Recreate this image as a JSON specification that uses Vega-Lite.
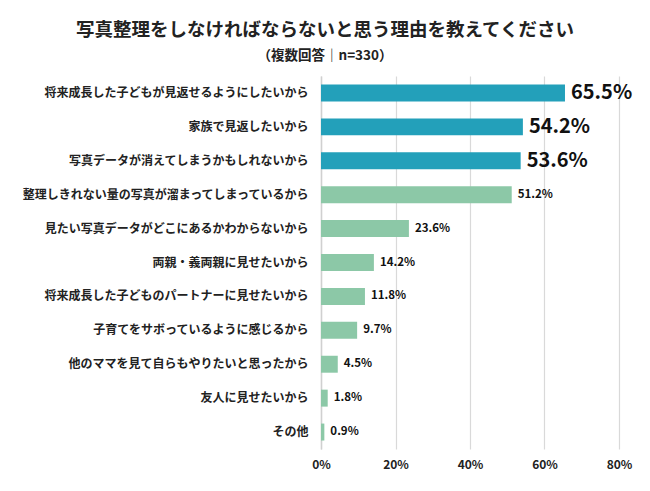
{
  "$schema": "https://vega.github.io/schema/vega-lite/v6.json",
  "width": 298,
  "height": 373,
  "autosize": {"type": "none"},
  "padding": {"left": 321, "top": 76, "right": 31, "bottom": 42},
  "background": "white",
  "config": {
    "font": "Noto Sans CJK JP",
    "view": {"stroke": null}
  },
  "title": {
    "text": "写真整理をしなければならないと思う理由を教えてください",
    "subtitle": "（複数回答｜n=330）",
    "anchor": "middle",
    "frame": "group",
    "dx": -145,
    "offset": 14,
    "fontSize": 18.5,
    "fontWeight": "bold",
    "color": "#222222",
    "subtitleFontSize": 13.5,
    "subtitleFontWeight": "bold",
    "subtitleColor": "#222222",
    "subtitlePadding": 9
  },
  "data": {
    "values": [
      {"reason": "将来成長した子どもが見返せるようにしたいから", "v": 0.655, "top": true},
      {"reason": "家族で見返したいから", "v": 0.542, "top": true},
      {"reason": "写真データが消えてしまうかもしれないから", "v": 0.536, "top": true},
      {"reason": "整理しきれない量の写真が溜まってしまっているから", "v": 0.512, "top": false},
      {"reason": "見たい写真データがどこにあるかわからないから", "v": 0.236, "top": false},
      {"reason": "両親・義両親に見せたいから", "v": 0.142, "top": false},
      {"reason": "将来成長した子どものパートナーに見せたいから", "v": 0.118, "top": false},
      {"reason": "子育てをサボっているように感じるから", "v": 0.097, "top": false},
      {"reason": "他のママを見て自らもやりたいと思ったから", "v": 0.045, "top": false},
      {"reason": "友人に見せたいから", "v": 0.018, "top": false},
      {"reason": "その他", "v": 0.009, "top": false}
    ]
  },
  "encoding": {
    "y": {
      "field": "reason",
      "type": "nominal",
      "sort": null,
      "scale": {"paddingInner": 0.5, "paddingOuter": 0.25},
      "axis": {
        "title": null,
        "ticks": false,
        "labelFontSize": 12,
        "labelFontWeight": "bold",
        "labelColor": "#222222",
        "labelPadding": 13,
        "labelLimit": 400,
        "domainColor": "#d0d0d0",
        "domainWidth": 1.5
      }
    },
    "x": {
      "field": "v",
      "type": "quantitative",
      "scale": {"domain": [0, 0.8]},
      "axis": {
        "title": null,
        "values": [0, 0.2, 0.4, 0.6, 0.8],
        "format": ".0%",
        "labelFlush": false,
        "labelFontSize": 12,
        "labelFontWeight": "bold",
        "labelColor": "#222222",
        "labelPadding": 10,
        "ticks": false,
        "domain": false,
        "grid": true,
        "gridColor": "#d9d9d9",
        "gridWidth": 1.2
      }
    }
  },
  "layer": [
    {
      "mark": {"type": "bar"},
      "encoding": {
        "color": {
          "condition": {"test": "datum.top", "value": "#23A0BA"},
          "value": "#8CC8A7"
        }
      }
    },
    {
      "mark": {"type": "text", "align": "left", "baseline": "middle", "dx": 6, "fontWeight": "bold", "color": "#111111"},
      "encoding": {
        "text": {"field": "v", "type": "quantitative", "format": ".1%"},
        "size": {
          "condition": {"test": "datum.top", "value": 20},
          "value": 11.5
        }
      }
    }
  ]
}
